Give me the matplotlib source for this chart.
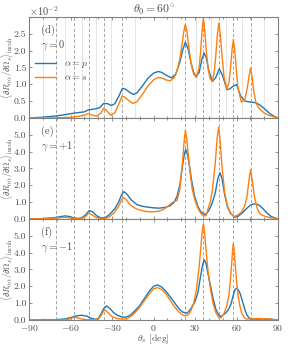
import matplotlib
matplotlib.use('Agg')
import matplotlib.pyplot as plt

plt.rcParams['font.family'] = 'serif'
plt.rcParams['font.serif'] = ['cmr10']
plt.rcParams['mathtext.fontset'] = 'cm'
plt.rcParams['axes.formatter.use_mathtext'] = True
plt.rcParams['axes.unicode_minus'] = True

# dashed and solid guide lines (deg)
dashed_x = [-70.5, -57.5, -46.8, -35.6, -22.5, 22.8, 36.0, 47.0, 57.7, 70.2]
solid_x = [-80, -64, -52, -41.5, -30.6, -13.3, 13.3, 30.6, 41.8, 52.3, 63.8, 80]

# panel (d), gamma = 0  (units of 1e-2)
d_p_x = [-90, -80, -70, -62, -56, -50, -47, -42, -39, -36, -33, -30.5, -28, -25, -22.5, -20, -17, -14.5,
         -12, -8, -4, 0, 3.5, 6, 9, 13, 16, 19, 21, 23, 25, 27, 29, 30.7, 33, 35, 36.5, 38, 40, 42.5, 45,
         47.5, 50, 53, 55, 57.5, 60, 63, 66, 70, 74, 77, 80, 84, 87, 90]
d_p = [0.0, 0.02, 0.06, 0.11, 0.15, 0.18, 0.24, 0.27, 0.30, 0.43, 0.42, 0.37, 0.42, 0.65, 0.88, 0.85, 0.75, 0.70,
       0.74, 0.95, 1.18, 1.33, 1.38, 1.35, 1.27, 1.19, 1.30, 1.65, 2.00, 2.25, 2.05, 1.65, 1.35, 1.22, 1.35, 1.75,
       1.93, 1.80, 1.40, 1.08, 1.20, 1.46, 1.25, 0.84, 0.86, 0.94, 0.99, 0.65, 0.50, 0.47, 0.45, 0.38, 0.28, 0.13,
       0.05, 0.0]

d_s_x = [-90, -70, -60, -54, -50, -47, -44, -41, -38, -36, -34, -31, -28, -25, -22.8, -21, -18, -15, -12, -8,
         -4, 0, 3, 6, 9, 12, 15, 17, 19, 20.5, 21.8, 23, 24.2, 25.5, 27, 29, 31, 33, 34, 35, 36, 37, 38, 39.5,
         41, 42.5, 44, 45, 46.1, 47.2, 48.3, 49.5, 51, 53, 54.5, 55.7, 56.7, 57.7, 58.7, 59.8, 61, 63.5, 66,
         67.8, 69.1, 70.1, 71.1, 72.4, 74, 75.5, 77, 80, 83, 90]
d_s = [0.0, 0.0, 0.02, 0.05, 0.08, 0.13, 0.08, 0.05, 0.15, 0.29, 0.22, 0.08, 0.15, 0.42, 0.64, 0.62, 0.52, 0.43,
       0.48, 0.70, 0.95, 1.13, 1.20, 1.19, 1.13, 1.10, 1.20, 1.40, 1.75, 2.15, 2.55, 2.78, 2.55, 2.10, 1.65, 1.30,
       1.20, 1.50, 1.95, 2.55, 2.97, 2.60, 2.05, 1.45, 1.15, 1.10, 1.40, 1.85, 2.45, 2.82, 2.45, 1.85, 1.20,
       0.86, 1.05, 1.50, 2.00, 2.33, 2.00, 1.45, 0.90, 0.47, 0.55, 0.90, 1.25, 1.48, 1.25, 0.80, 0.45, 0.33,
       0.25, 0.15, 0.08, 0.0]

# panel (e), gamma = +1
e_p_x = [-90, -80, -72, -67, -64, -61, -58, -55, -52, -49, -46.5, -44, -41, -38, -35, -32, -28, -25, -23,
         -21.5, -19.5, -16, -12, -8, -4, 0, 4, 8, 12, 15, 17, 19, 21, 22.3, 23.3, 24.3, 25.5, 27.5, 29.5, 32,
         34, 36.5, 38, 40, 42, 44.5, 46.5, 48, 49.5, 51.5, 53.5, 55.5, 58.5, 61, 64, 67, 70, 73, 76, 79, 82,
         85, 88, 90]
e_p = [0.0, 0.02, 0.07, 0.14, 0.18, 0.15, 0.07, 0.03, 0.06, 0.25, 0.50, 0.42, 0.18, 0.06, 0.07, 0.25, 0.60, 1.05,
       1.45, 1.62, 1.50, 1.12, 0.85, 0.75, 0.70, 0.66, 0.64, 0.68, 0.78, 1.00, 1.35, 2.00, 3.20, 3.85, 4.12, 3.90,
       3.40, 2.30, 1.40, 0.75, 0.45, 0.28, 0.30, 0.50, 0.85, 1.50, 2.40, 2.75, 2.40, 1.40, 0.70, 0.35, 0.10, 0.15,
       0.35, 0.60, 0.82, 0.90, 0.84, 0.62, 0.35, 0.15, 0.05, 0.01]

e_s_x = [-90, -80, -72, -67, -64, -61, -58, -55, -52, -49, -47, -45, -42, -38, -35, -32, -28, -25, -23, -21.8,
         -20, -17, -13, -9, -5, -1, 3, 7, 11, 14, 17, 19, 21, 22, 23, 24, 25, 26.5, 28, 30, 32, 34, 36, 38, 39,
         41, 42.5, 44.5, 46, 47, 48, 49.5, 51.5, 53.5, 55.5, 58, 60, 62, 64, 66, 67.5, 69, 70.2, 71.5, 73, 75,
         77, 80, 84, 90]
e_s = [0.0, 0.01, 0.04, 0.08, 0.10, 0.07, 0.02, 0.01, 0.03, 0.14, 0.34, 0.28, 0.10, 0.02, 0.03, 0.12, 0.40, 0.80,
       1.15, 1.27, 1.18, 0.85, 0.62, 0.50, 0.44, 0.42, 0.45, 0.55, 0.80, 1.00, 1.10, 1.75, 3.40, 4.50, 5.27, 4.75,
       3.90, 2.70, 1.75, 1.10, 0.65, 0.35, 0.18, 0.20, 0.50, 1.00, 1.70, 3.20, 4.80, 5.45, 4.80, 3.10, 1.50, 0.75,
       0.38, 0.15, 0.20, 0.30, 0.45, 0.80, 1.30, 2.30, 2.93, 2.20, 1.30, 0.60, 0.30, 0.17, 0.08, 0.01]

# panel (f), gamma = -1
f_p_x = [-90, -80, -70, -64, -60, -56, -52, -48, -45, -42, -40, -38, -36, -34, -32, -29, -26, -23, -20, -17,
         -14, -10, -6, -3, 0, 3, 6, 9, 12, 15, 18, 21, 24, 26, 28, 30, 32, 34, 35.5, 36.7, 38, 39, 41, 43, 45,
         47, 48.5, 50, 52, 54, 56, 57.7, 59, 60.2, 61.5, 62.5, 64, 65, 66.5, 67.5, 69, 71, 75, 80, 85, 90]
f_p = [0.0, 0.01, 0.02, 0.06, 0.14, 0.24, 0.28, 0.22, 0.10, 0.04, 0.08, 0.35, 0.68, 0.83, 0.72, 0.45, 0.27, 0.18,
       0.17, 0.27, 0.50, 0.85, 1.35, 1.72, 2.00, 2.08, 1.95, 1.70, 1.38, 1.05, 0.70, 0.47, 0.40, 0.55, 0.80, 1.10,
       1.60, 2.60, 3.30, 3.57, 3.35, 2.90, 2.10, 1.30, 0.65, 0.30, 0.20, 0.28, 0.40, 0.60, 0.95, 1.49, 1.82, 1.89,
       1.75, 1.59, 1.20, 0.89, 0.50, 0.30, 0.12, 0.05, 0.05, 0.06, 0.04, 0.0]

f_s_x = [-90, -75, -65, -61, -58.5, -56.5, -54, -51, -47, -43, -40, -38, -36, -35, -33, -30, -26, -22, -19,
         -15, -11, -7, -3, 0, 3, 6, 9, 12, 15, 18, 21, 23, 25, 27, 29, 31, 33, 34.5, 35.3, 36, 36.7, 37.5, 39,
         41, 43, 45, 47.4, 49, 51, 53, 54.5, 55.5, 56.7, 57.2, 57.7, 58.2, 58.7, 60, 61, 62.5, 64, 65.5, 67, 72,
         76, 80, 85, 90]
f_s = [0.0, 0.0, 0.01, 0.05, 0.13, 0.16, 0.10, 0.04, 0.01, 0.01, 0.05, 0.25, 0.55, 0.60, 0.45, 0.20, 0.08, 0.05,
       0.08, 0.30, 0.65, 1.10, 1.55, 1.85, 1.92, 1.80, 1.55, 1.18, 0.80, 0.50, 0.30, 0.24, 0.30, 0.55, 1.00, 1.80,
       3.20, 4.60, 5.35, 5.71, 5.35, 4.60, 3.20, 1.90, 1.00, 0.45, 0.12, 0.15, 0.40, 0.85, 1.50, 2.30, 3.60, 4.20,
       4.52, 4.20, 3.60, 2.30, 1.50, 0.80, 0.35, 0.15, 0.06, 0.06, 0.09, 0.08, 0.05, 0.0]

panels = [
    ('(d)', r'$\gamma = 0$', d_p_x, d_p, d_s_x, d_s, 3.0, [0, 0.5, 1.0, 1.5, 2.0, 2.5], True),
    ('(e)', r'$\gamma = +1$', e_p_x, e_p, e_s_x, e_s, 6.0, [0, 1, 2, 3, 4, 5], False),
    ('(f)', r'$\gamma = -1$', f_p_x, f_p, f_s_x, f_s, 6.0, [0, 1, 2, 3, 4, 5], False),
]

blue = '#1f77b4'
orange = '#ff7f0e'
tc = '0.3'

fig = plt.figure(figsize=(2.93, 3.52), dpi=100)
left, width, h = 0.099, 0.850, 0.287
bottoms = [0.665, 0.378, 0.091]

ylab = r'$\langle \partial R_{\alpha\alpha}/\partial\Omega_s\rangle_{\mathrm{incoh}}$'

for i, (tag, glab, px, py, sx, sy, ytop, yt, first) in enumerate(panels):
    ax = fig.add_axes([left, bottoms[i], width, h])
    if first:
        for v in solid_x:
            ax.axvline(v, color='0.88', lw=0.6, zorder=0)
    for v in dashed_x:
        ax.axvline(v, color='0.6', lw=0.6, ls=(0, (4, 2.5)), zorder=0.5)
    ax.plot(px, py, color=blue, lw=1.0, label=r'$\alpha = p$')
    ax.plot(sx, sy, color=orange, lw=1.0, label=r'$\alpha = s$')
    ax.set_xlim(-90, 90)
    ax.set_ylim(0, ytop)
    ax.set_yticks(yt)
    ax.set_yticklabels(['%.1f' % v for v in yt])
    ax.set_xticks([-90, -60, -30, 0, 30, 60, 90])
    ax.set_xticks(range(-90, 91, 10), minor=True)
    ax.tick_params(which='both', direction='in', top=True, right=True, colors='0.5',
                   labelcolor=tc, labelsize=7, length=2.5, width=0.6, pad=2)
    ax.tick_params(which='minor', length=1.5)
    for s in ax.spines.values():
        s.set_color('0.5')
        s.set_linewidth(0.8)
    ax.set_ylabel(ylab, fontsize=6.3, color=tc)
    ax.yaxis.set_label_coords(-0.056, 0.5)
    ax.text(0.05, 0.84, tag, transform=ax.transAxes, fontsize=7.5, color=tc)
    ax.text(0.05, 0.70, glab, transform=ax.transAxes, fontsize=7.5, color=tc)
    if first:
        ax.legend(loc='upper left', bbox_to_anchor=(0.0, 0.64), frameon=False, fontsize=7,
                  handlelength=2.2, labelcolor=tc, borderaxespad=0.2, handletextpad=0.8,
                  labelspacing=0.3)
        ax.text(0.0, 1.01, r'$\times10^{-2}$', transform=ax.transAxes, fontsize=7.5, color=tc)
        ax.set_title(r'$\theta_0 = 60^{\circ}$', fontsize=8.5, color=tc, pad=3)
    if i < 2:
        ax.set_xticklabels([])
    else:
        ax.set_xlabel(r'$\theta_s$ [deg]', fontsize=7, color=tc, labelpad=0)

fig.savefig('out.png', dpi=100)
